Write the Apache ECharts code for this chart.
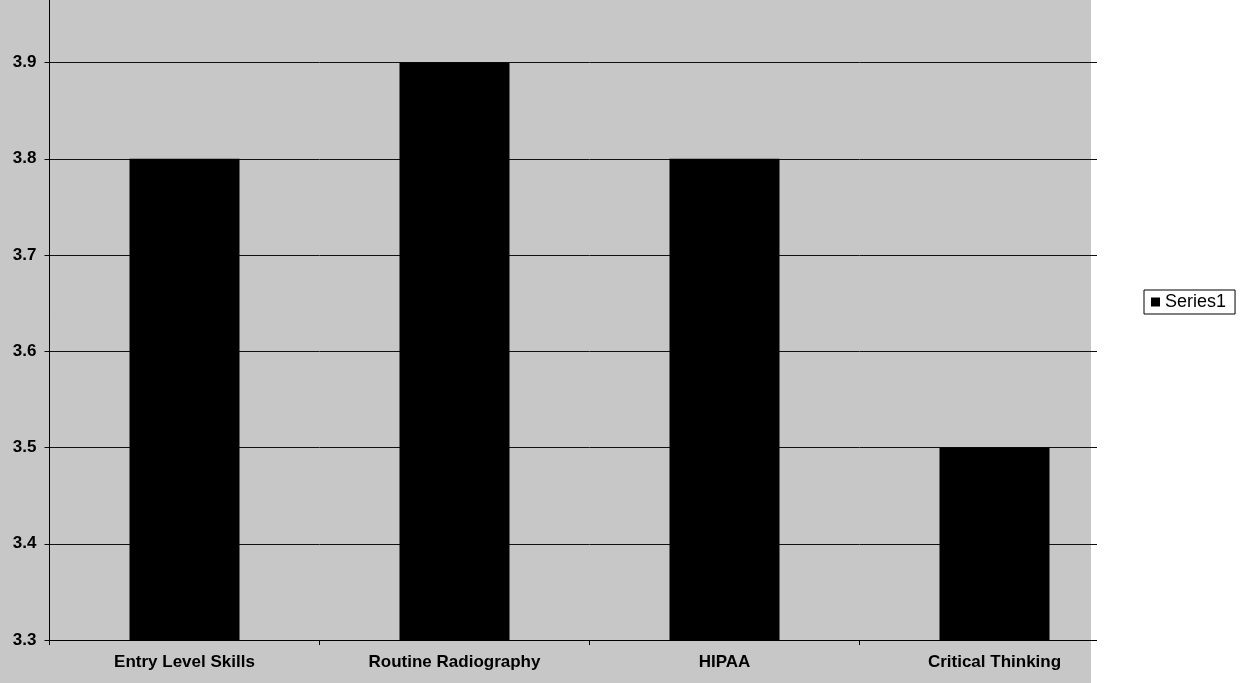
<!DOCTYPE html>
<html>
<head>
<meta charset="utf-8">
<script src="https://cdn.jsdelivr.net/npm/echarts@6/dist/echarts.min.js"></script>
<style>
  html, body { margin: 0; padding: 0; background: #fff; }
  #chart { width: 1247px; height: 683px; }
</style>
</head>
<body>
<div id="chart"></div>
<script>
// données
const categories = ['Entry Level Skills', 'Routine Radiography', 'HIPAA', 'Critical Thinking'];
const series1 = [3.8, 3.9, 3.8, 3.5];
const yMin = 3.3;
const yMax = 3.965;

const chart = echarts.init(document.getElementById('chart'), null, { renderer: 'canvas' });

chart.setOption({
  backgroundColor: '#fff',
  animation: false,
  textStyle: { fontFamily: 'Liberation Sans, Arial, sans-serif' },
  graphic: [
    // fond gris de la zone du graphique (scan)
    { type: 'rect', z: -100, shape: { x: 0, y: 0, width: 1091, height: 683 }, style: { fill: '#c7c7c7' } },
    // le cadre du scan s'arrête avant la fin de la grille
    { type: 'rect', z: 100, shape: { x: 1097, y: 0, width: 40, height: 683 }, style: { fill: '#fff' } },
    // pas de ligne au max (image rognée en haut)
    { type: 'rect', z: 100, shape: { x: 50, y: 0, width: 1041, height: 1.5 }, style: { fill: '#c7c7c7' } },
    { type: 'rect', z: 100, shape: { x: 1091, y: 0, width: 6, height: 1.5 }, style: { fill: '#fff' } }
  ],
  grid: { left: 49.5, top: 0, width: 1080, height: 640 },
  legend: {
    left: 1144, top: 290,
    icon: 'rect', itemWidth: 9, itemHeight: 9, itemGap: 6,
    padding: [3, 9, 3, 7],
    borderColor: '#000', borderWidth: 1,
    backgroundColor: '#fff',
    textStyle: { color: '#000', fontSize: 18, fontFamily: 'Liberation Sans, Arial, sans-serif' },
    data: ['Series1']
  },
  xAxis: {
    type: 'category',
    data: categories,
    axisLine: { lineStyle: { color: '#000', width: 1 } },
    axisTick: { show: true, length: 5, lineStyle: { color: '#000' } },
    axisLabel: { color: '#000', fontSize: 17, fontWeight: 'bold', margin: 14 },
    splitLine: { show: false }
  },
  yAxis: {
    type: 'value',
    min: yMin, max: yMax, interval: 0.1,
    axisLine: { show: true, lineStyle: { color: '#000', width: 1 } },
    axisTick: { show: true, length: 5, lineStyle: { color: '#000' } },
    axisLabel: {
      color: '#000', fontSize: 17, fontWeight: 'bold', margin: 13,
      showMaxLabel: false,
      formatter: (v) => v.toFixed(1)
    },
    splitLine: { lineStyle: { color: '#111', width: 1 } }
  },
  series: [{
    name: 'Series1',
    type: 'bar',
    data: series1,
    barWidth: 110,
    itemStyle: { color: '#000' }
  }]
});
</script>
</body>
</html>
